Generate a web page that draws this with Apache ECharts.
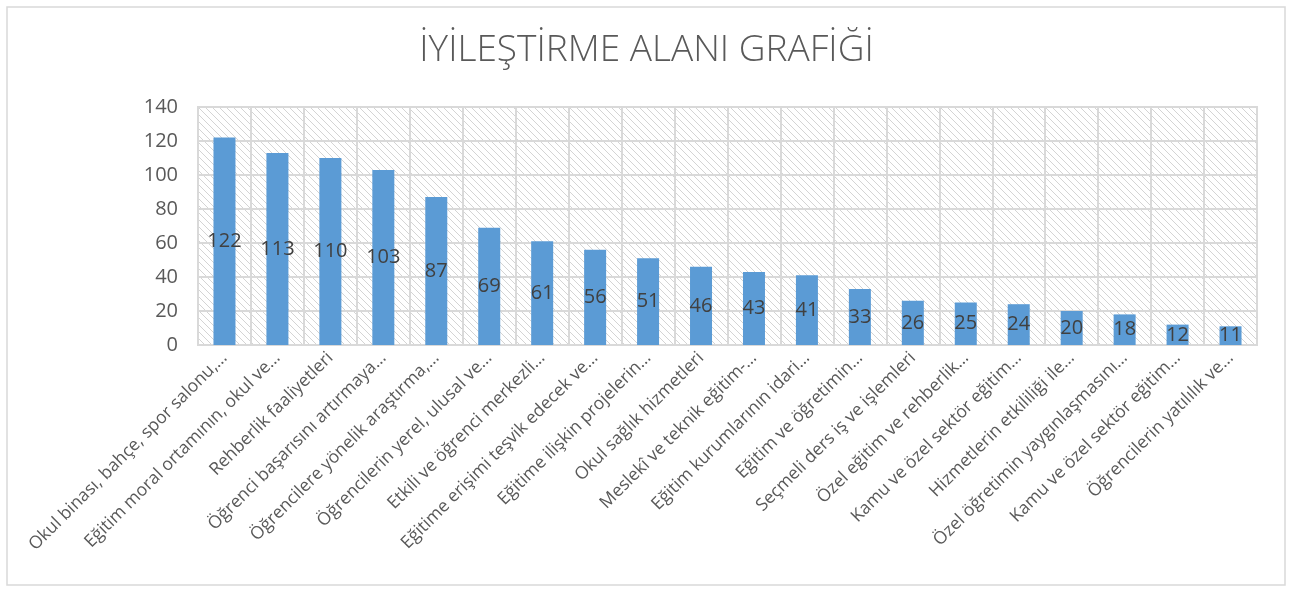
<!DOCTYPE html>
<html>
<head>
<meta charset="utf-8">
<script src="https://cdn.jsdelivr.net/npm/echarts@6/dist/echarts.min.js"></script>
<style>
  html, body { margin: 0; padding: 0; background: #fff; }
  #chart { width: 1293px; height: 592px; }
</style>
</head>
<body>
<div id="chart"></div>
<script>
const categories = [
  "Okul binası, bahçe, spor salonu,…",
  "Eğitim moral ortamının, okul ve…",
  "Rehberlik faaliyetleri",
  "Öğrenci başarısını artırmaya…",
  "Öğrencilere yönelik araştırma,…",
  "Öğrencilerin yerel, ulusal ve…",
  "Etkili ve öğrenci merkezli…",
  "Eğitime erişimi teşvik edecek ve…",
  "Eğitime ilişkin projelerin…",
  "Okul sağlık hizmetleri",
  "Meslekî ve teknik eğitim-…",
  "Eğitim kurumlarının idari…",
  "Eğitim ve öğretimin…",
  "Seçmeli ders iş ve işlemleri",
  "Özel eğitim ve rehberlik…",
  "Kamu ve özel sektör eğitim…",
  "Hizmetlerin etkililiği ile…",
  "Özel öğretimin yaygınlaşmasını…",
  "Kamu ve özel sektör eğitim…",
  "Öğrencilerin yatılılık ve…"
];
const values = [122, 113, 110, 103, 87, 69, 61, 56, 51, 46, 43, 41, 33, 26, 25, 24, 20, 18, 12, 11];
const yTicks = [0, 20, 40, 60, 80, 100, 120, 140];

// diagonal hatch for the plot background
const hatch = document.createElement("canvas");
hatch.width = 7;
hatch.height = 7;
const hc = hatch.getContext("2d");
hc.fillStyle = "#ffffff";
hc.fillRect(0, 0, 7, 7);
hc.strokeStyle = "#d4d4d4";
hc.lineWidth = 1;
hc.beginPath();
hc.moveTo(-1, -1); hc.lineTo(8, 8);
hc.moveTo(-1, 6); hc.lineTo(1, 8);
hc.moveTo(6, -1); hc.lineTo(8, 1);
hc.stroke();

const chart = echarts.init(document.getElementById("chart"));
chart.setOption({
  animation: false,
  textStyle: { fontFamily: "Open Sans, sans-serif" },
  title: {
    text: "İYİLEŞTİRME ALANI GRAFİĞİ",
    left: "center",
    top: 27,
    textStyle: { fontSize: 37, fontWeight: 300, color: "#595959" }
  },
  graphic: [{
    type: "rect",
    shape: { x: 7, y: 7, width: 1278, height: 578 },
    style: { fill: "none", stroke: "#d9d9d9", lineWidth: 1.5 },
    z: -1
  }],
  grid: {
    left: 198, right: 36, top: 107, bottom: 247,
    show: true,
    backgroundColor: { image: hatch, repeat: "repeat" },
    borderColor: "#d9d9d9",
    borderWidth: 2
  },
  xAxis: {
    type: "category",
    data: categories,
    axisLine: { lineStyle: { color: "#d9d9d9", width: 2 } },
    axisTick: { show: false },
    splitLine: { show: true, interval: 0, lineStyle: { color: "#d9d9d9", width: 2 } },
    axisLabel: {
      interval: 0,
      rotate: 45,
      fontSize: 17.5,
      color: "#595959",
      margin: 10
    }
  },
  yAxis: {
    type: "value",
    min: yTicks[0],
    max: yTicks[yTicks.length - 1],
    interval: 20,
    axisLine: { show: false },
    axisTick: { show: false },
    splitLine: { lineStyle: { color: "#d9d9d9", width: 2 } },
    axisLabel: { fontSize: 20, color: "#595959", margin: 20 }
  },
  series: [{
    type: "bar",
    data: values,
    barWidth: 22,
    itemStyle: { color: "#5b9bd5" },
    label: {
      show: true,
      position: "inside",
      fontSize: 20,
      color: "#404040"
    }
  }]
});
</script>
</body>
</html>
